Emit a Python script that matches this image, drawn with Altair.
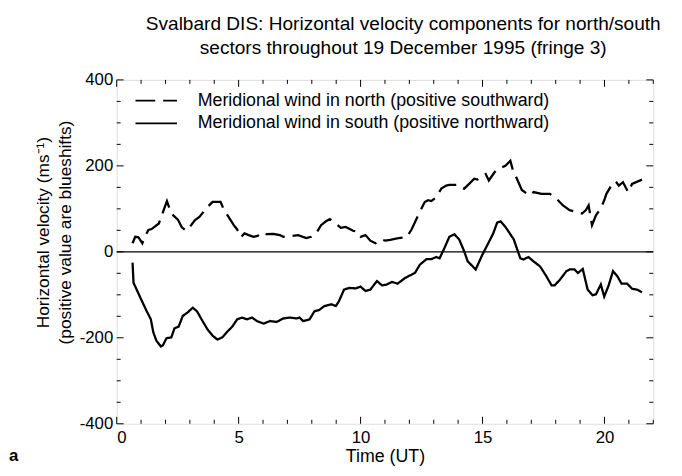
import altair as alt
import pandas as pd

# ---- data ----
north_t = [0.65, 0.76, 0.89, 1.05, 1.19, 1.30, 1.43, 1.73, 1.90, 2.06, 2.24, 2.51, 2.67, 2.85, 3.05,
           3.21, 3.39, 3.59, 3.72, 3.93, 4.26, 4.40, 4.60, 4.80, 4.94, 5.10, 5.24, 5.41, 5.61, 5.78,
           5.95, 6.13, 6.42, 6.69, 6.83, 7.17, 7.44, 7.77, 7.98, 8.18, 8.38, 8.58, 8.74, 9.06, 9.19,
           9.39, 9.69, 9.87, 10.00, 10.20, 10.40, 10.61, 10.85, 11.01, 11.21, 11.55, 11.89, 12.09,
           12.36, 12.63, 12.77, 12.90, 13.10, 13.31, 13.51, 13.64, 13.98, 14.12, 14.25, 14.45, 14.66,
           14.79, 14.93, 15.13, 15.26, 15.49, 15.63, 15.94, 16.14, 16.25, 16.41, 16.61, 16.92, 17.09,
           17.42, 17.76, 18.03, 18.30, 18.57, 18.84, 19.08, 19.24, 19.35, 19.49, 19.65, 19.85, 19.99,
           20.08, 20.32, 20.46, 20.59, 20.76, 20.97, 21.13, 21.54]
north_v = [20, 35, 34, 20, 39, 51, 53, 66, 93, 118, 89, 75, 57, 49, 62,
           74, 81, 95, 104, 116, 116, 97, 80, 62, 52, 34, 43, 39, 35, 37,
           45, 41, 42, 39, 35, 37, 39, 32, 35, 43, 62, 71, 76, 62, 56,
           58, 49, 47, 35, 39, 26, 20, 29, 26, 28, 32, 34, 52,
           85, 116, 120, 118, 127, 147, 154, 156, 156, 149, 147, 158, 170,
           168, 174, 181, 166, 185, 193, 200, 212, 189, 170, 144, 131, 139,
           135, 135, 124, 108, 97, 93, 89, 97, 108, 62, 85, 101, 120,
           135, 158, 164, 154, 162, 139, 158, 168]

south_t = [0.65, 0.69, 0.82, 1.03, 1.23, 1.40, 1.50, 1.63, 1.81, 1.90, 2.04, 2.24, 2.37, 2.54, 2.71,
           2.91, 3.12, 3.29, 3.52, 3.72, 3.93, 4.13, 4.33, 4.53, 4.74, 4.94, 5.14, 5.34, 5.55, 5.75,
           6.02, 6.29, 6.56, 6.83, 7.10, 7.37, 7.50, 7.64, 7.91, 8.11, 8.31, 8.52, 8.79, 8.99, 9.12,
           9.32, 9.53, 9.80, 10.00, 10.20, 10.40, 10.67, 10.88, 11.08, 11.28, 11.52, 11.82, 12.23,
           12.43, 12.70, 12.90, 13.10, 13.24, 13.44, 13.64, 13.85, 14.05, 14.25, 14.39, 14.72, 14.99,
           15.20, 15.44, 15.60, 15.74, 15.94, 16.28, 16.55, 16.68, 16.88, 17.09, 17.36, 17.62, 17.83,
           17.96, 18.17, 18.44, 18.57, 18.77, 18.91, 19.11, 19.31, 19.51, 19.65, 19.85, 19.99, 20.16,
           20.35, 20.53, 20.70, 20.93, 21.13, 21.34, 21.54]
south_v = [-25, -72, -88, -114, -138, -157, -187, -207, -220, -217, -201, -199, -178, -174, -149,
           -141, -130, -138, -161, -180, -195, -204, -199, -186, -174, -157, -153, -157, -153, -161,
           -167, -161, -163, -155, -153, -155, -153, -161, -157, -138, -135, -126, -122, -126, -114,
           -88, -84, -85, -81, -91, -88, -68, -78, -76, -70, -74, -61, -49,
           -30, -17, -17, -12, -15, 9, 35, 41, 28, 1, -22, -41, -7,
           16, 43, 68, 71, 58, 29, -15, -18, -12, -22, -34, -57, -78,
           -78, -65, -45, -41, -41, -49, -40, -88, -101, -99, -76, -104, -80,
           -45, -57, -74, -74, -86, -88, -94]

series_names = ["Meridional wind in north (positive southward)",
                "Meridional wind in south (positive northward)"]
x_labels = [0, 5, 10, 15, 20]
y_labels = [-400, -200, 0, 200, 400]
x_minor = list(range(0, 23))
y_minor = list(range(-400, 401, 50))

title_lines = ["Svalbard DIS: Horizontal velocity components for north/south",
               "sectors throughout 19 December 1995 (fringe 3)"]
y_title = ["Horizontal velocity (ms\u207b\u00b9)", "(positive value are blueshifts)"]

# ---- tables ----
df = pd.concat([
    pd.DataFrame({"t": north_t, "v": north_v, "series": series_names[0], "o": range(len(north_t))}),
    pd.DataFrame({"t": south_t, "v": south_v, "series": series_names[1], "o": range(len(south_t))}),
])
xt = pd.DataFrame({"t": x_minor, "major": [t in x_labels for t in x_minor]})
yt = pd.DataFrame({"v": y_minor, "major": [v in y_labels for v in y_minor]})

FONT = "Liberation Sans"
W, H = 543, 348
hyphen = "datum.value < 0 ? '-' + abs(datum.value) : '' + datum.value"
DASHES = [[20, 8], [1, 0]]

xs = alt.Scale(domain=[0, 22], nice=False, zero=False)
ys = alt.Scale(domain=[-400, 400], nice=False)

lines = alt.Chart(df).mark_line(color="black", strokeWidth=2.3).encode(
    x=alt.X("t:Q", scale=xs, title="Time (UT)",
            axis=alt.Axis(values=x_labels, ticks=False, domain=False, grid=False,
                          labelFontSize=17, labelPadding=6, titleFontSize=18,
                          titleFontWeight="normal", titlePadding=2, labelFont=FONT, titleFont=FONT,
                          labelColor="black", titleColor="black", labelExpr=hyphen)),
    y=alt.Y("v:Q", scale=ys, title=y_title,
            axis=alt.Axis(values=y_labels, ticks=False, domain=False, grid=False,
                          labelFontSize=17, labelPadding=4, titleFontSize=17.5, titleLineHeight=22,
                          titleFontWeight="normal", titlePadding=5, labelFont=FONT, titleFont=FONT,
                          titleY=154,
                          labelColor="black", titleColor="black", labelExpr=hyphen)),
    strokeDash=alt.StrokeDash("series:N", scale=alt.Scale(domain=series_names, range=DASHES),
                              legend=None),
    order="o:Q",
)

zero = alt.Chart(pd.DataFrame({"v": [0]})).mark_rule(color="black", strokeWidth=1.3).encode(
    y=alt.Y("v:Q", scale=ys))

tick_layers = []
for top in (False, True):
    for major in (True, False):
        ln = 7 if major else 4
        d = xt[xt.major == major]
        y0 = 0 if top else H
        y1 = ln if top else H - ln
        tick_layers.append(alt.Chart(d).mark_rule(color="black", strokeWidth=1).encode(
            x=alt.X("t:Q", scale=xs), y=alt.value(y0), y2=alt.value(y1)))
for right in (False, True):
    for major in (True, False):
        ln = 7 if major else 4
        d = yt[yt.major == major]
        x0 = W if right else 0
        x1 = W - ln if right else ln
        tick_layers.append(alt.Chart(d).mark_rule(color="black", strokeWidth=1).encode(
            y=alt.Y("v:Q", scale=ys), x=alt.value(x0), x2=alt.value(x1)))

# manual legend (inside plot, top-left)
legend_layers = []
for name, dash, ypos in zip(series_names, DASHES, (21, 44)):
    one = alt.Chart(pd.DataFrame({"s": [name]}))
    legend_layers.append(one.mark_rule(color="black", strokeWidth=1.8, strokeDash=dash).encode(
        x=alt.value(19), x2=alt.value(61), y=alt.value(ypos)))
    legend_layers.append(one.mark_text(font=FONT, fontSize=18, align="left", baseline="middle",
                                       color="black").encode(
        text="s:N", x=alt.value(82), y=alt.value(ypos)))

title_layers = []
for line, ypos in zip(title_lines, (-51, -26)):
    title_layers.append(alt.Chart(pd.DataFrame({"line": [line]})).mark_text(
        font=FONT, fontSize=19.3, align="center", baseline="alphabetic", color="black"
    ).encode(text="line:N", x=alt.value(290), y=alt.value(ypos)))

panel_label = alt.Chart(pd.DataFrame({"s": ["a"]})).mark_text(
    font=FONT, fontSize=17, fontWeight="bold", align="left", baseline="alphabetic", color="black"
).encode(text="s:N", x=alt.value(-109), y=alt.value(386))

chart = alt.layer(zero, *tick_layers, lines, *legend_layers, *title_layers, panel_label).properties(
    width=W, height=H,
    autosize=alt.AutoSizeParams(type="none"),
    padding={"left": 110, "top": 70, "right": 21, "bottom": 42},
).configure_view(stroke="black", strokeWidth=1.3).configure(background="white")

chart.save("out.html", embed_options={"renderer": "svg", "actions": False})
